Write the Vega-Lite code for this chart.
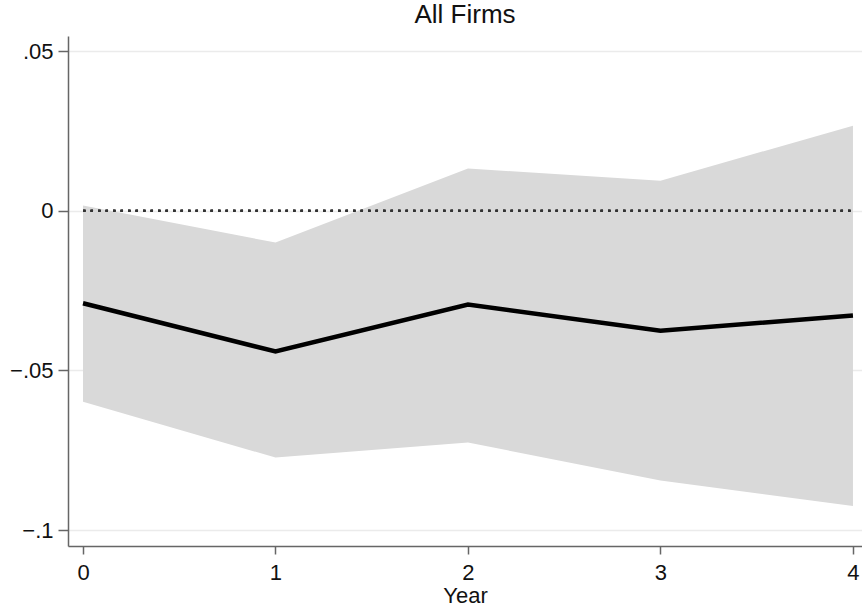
{
  "$schema": "https://vega.github.io/schema/vega-lite/v6.json",
  "width": 794,
  "height": 510,
  "autosize": "none",
  "padding": {"left": 68, "top": 36, "right": 0, "bottom": 68},
  "background": "white",
  "title": {"text": "All Firms", "font": "Liberation Sans", "fontSize": 26, "fontWeight": "normal", "color": "#111", "offset": 8},
  "config": {
    "view": {"stroke": null},
    "axis": {"labelFont": "Liberation Sans", "titleFont": "Liberation Sans", "labelColor": "#111", "titleColor": "#111", "labelFontSize": 22, "titleFontSize": 22, "titleFontWeight": "normal", "domainColor": "#666", "tickColor": "#666", "domainWidth": 1.5, "tickWidth": 1.5}
  },
  "data": {"values": [
    {"year": 0, "est": -0.029, "lo": -0.0598, "hi": 0.0016},
    {"year": 1, "est": -0.0441, "lo": -0.0773, "hi": -0.010},
    {"year": 2, "est": -0.0294, "lo": -0.0726, "hi": 0.0132},
    {"year": 3, "est": -0.0376, "lo": -0.0845, "hi": 0.0094},
    {"year": 4, "est": -0.0328, "lo": -0.0925, "hi": 0.0266}
  ]},
  "layer": [
    {
      "mark": {"type": "area", "color": "#d9d9d9", "opacity": 1},
      "encoding": {
        "x": {"field": "year", "type": "quantitative", "scale": {"domain": [-0.078, 4.047], "nice": false, "zero": false},
              "axis": {"values": [0, 1, 2, 3, 4], "grid": false, "title": "Year", "tickSize": 8, "labelPadding": 8, "titlePadding": 2, "format": "d"}},
        "y": {"field": "lo", "type": "quantitative", "scale": {"domain": [-0.105, 0.0547], "nice": false, "zero": false},
              "axis": {"values": [0.05, 0, -0.05, -0.1], "grid": true, "gridColor": "#ebebeb", "gridWidth": 1.5, "title": null, "tickSize": 10, "labelPadding": 5,
                       "labelExpr": "datum.value == 0 ? '0' : replace(format(datum.value, '.2~f'), '0.', '.')"}},
        "y2": {"field": "hi"}
      }
    },
    {
      "mark": {"type": "rule", "color": "#333", "strokeWidth": 2, "strokeDash": [2.5, 5]},
      "encoding": {"x": {"datum": 0}, "x2": {"datum": 4}, "y": {"datum": 0}}
    },
    {
      "mark": {"type": "line", "color": "black", "strokeWidth": 4.5},
      "encoding": {
        "x": {"field": "year", "type": "quantitative"},
        "y": {"field": "est", "type": "quantitative"}
      }
    }
  ]
}
